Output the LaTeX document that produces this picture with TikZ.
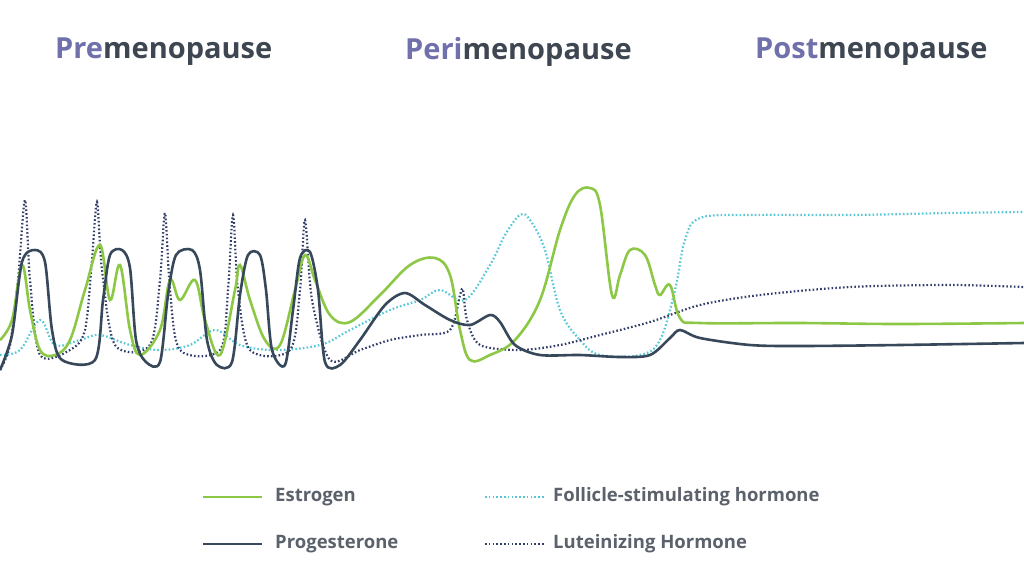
\documentclass[tikz,border=0pt]{standalone}
\usepackage{fontspec}
\setmainfont{Open Sans}
\definecolor{estro}{RGB}{140,200,70}
\definecolor{proges}{RGB}{55,72,90}
\definecolor{fsh}{RGB}{85,200,215}
\definecolor{lh}{RGB}{50,62,105}
\definecolor{phase}{RGB}{112,112,172}
\definecolor{ink}{RGB}{62,70,82}
\definecolor{legtext}{RGB}{92,98,108}
\begin{document}
\begin{tikzpicture}[x=1pt,y=-1pt]

\tikzset{
  title/.style = {anchor=west, inner sep=0pt, font=\fontsize{29}{29}\selectfont\bfseries, text=ink},
  legend/.style = {anchor=west, inner sep=0pt, font=\fontsize{18.5}{18.5}\selectfont\bfseries, text=legtext},
  estrogen/.style = {estro, line width=2.6pt},
  progesterone/.style = {proges, line width=2.6pt},
  fshline/.style = {fsh, line width=2.2pt, dash pattern=on 1.6pt off 2.2pt},
  lhline/.style = {lh, line width=2.2pt, dash pattern=on 1.6pt off 2.2pt}
}

\useasboundingbox[fill=white] (0,0) rectangle (1024,576);

\node[title] (pre) at (55,52) {\textcolor{phase}{Pre}menopause};
\node[title] (peri) at (405,52) {\textcolor{phase}{Peri}menopause};
\node[title] (post) at (755,52) {\textcolor{phase}{Post}menopause};

% hormone curves
\draw[fshline] plot[smooth, tension=0.6] coordinates {(0,355) (20,350) (40,320) (55,345) (80,340) (100,335) (130,345) (160,350) (190,345) (215,330) (240,345) (275,350) (320,345) (350,330) (390,310) (420,300) (440,290) (465,300) (490,265) (505,235) (520,215) (530,220) (545,250) (560,310) (580,340) (600,355) (640,355) (660,340) (675,290) (685,240) (700,218) (750,215) (850,215) (950,213) (1024,212)};

\draw[lhline] plot[smooth, tension=0.5] coordinates {(0,370) (10,345) (18,280) (25,200) (30,280) (40,355) (70,350) (85,330) (92,260) (97,202) (102,270) (115,345) (150,345) (160,280) (165,213) (170,290) (180,350) (220,350) (228,290) (233,215) (238,290) (250,350) (290,350) (300,290) (305,220) (312,300) (330,360) (360,350) (390,340) (420,335) (450,330) (460,295) (463,290) (467,320) (480,345) (520,350) (560,345) (600,335) (650,322) (700,305) (760,295) (850,287) (950,285) (1024,287)};

\draw[estrogen] plot[smooth, tension=0.6] coordinates {(0,340) (12,320) (22,265) (30,310) (40,350) (55,355) (70,340) (85,290) (100,245) (110,300) (120,265) (130,330) (140,355) (160,330) (170,280) (180,300) (195,280) (205,320) (220,355) (235,290) (240,265) (250,300) (265,340) (280,345) (295,290) (305,255) (315,280) (330,315) (350,322) (380,295) (410,265) (435,258) (450,275) (460,330) (470,360) (490,355) (515,340) (540,300) (560,230) (575,195) (590,188) (600,205) (612,295) (620,275) (630,250) (645,255) (655,285) (660,295) (670,285) (680,318) (700,323) (800,323) (900,324) (1024,323)};

\draw[progesterone] plot[smooth, tension=0.5] coordinates {(0,370) (12,335) (22,262) (35,250) (45,262) (52,330) (62,360) (95,360) (103,300) (110,255) (122,250) (130,268) (136,340) (146,362) (160,362) (168,295) (176,255) (192,250) (200,270) (207,340) (217,365) (232,362) (240,295) (248,255) (260,255) (266,290) (272,350) (285,365) (293,310) (300,258) (310,252) (318,290) (325,362) (340,365) (360,340) (385,305) (405,293) (425,305) (450,320) (470,325) (490,315) (500,322) (515,345) (540,355) (580,355) (620,357) (650,355) (670,338) (680,330) (700,338) (750,345) (800,346) (900,345) (1024,343)};

% legend
\coordinate (e1) at (203,497); \coordinate (e2) at (262,497);
\coordinate (p1) at (203,544); \coordinate (p2) at (262,544);
\coordinate (f1) at (485,497); \coordinate (f2) at (545,497);
\coordinate (l1) at (485,544); \coordinate (l2) at (545,544);
\draw[estrogen] (e1) -- (e2);
\draw[progesterone] (p1) -- (p2);
\draw[fshline] (f1) -- (f2);
\draw[lhline] (l1) -- (l2);
\node[legend] (estrolab) at (275,497) {Estrogen};
\node[legend] (progeslab) at (275,544) {Progesterone};
\node[legend] (fshlab) at (553,497) {Follicle-stimulating hormone};
\node[legend] (lhlab) at (553,544) {Luteinizing Hormone};

\end{tikzpicture}
\end{document}
